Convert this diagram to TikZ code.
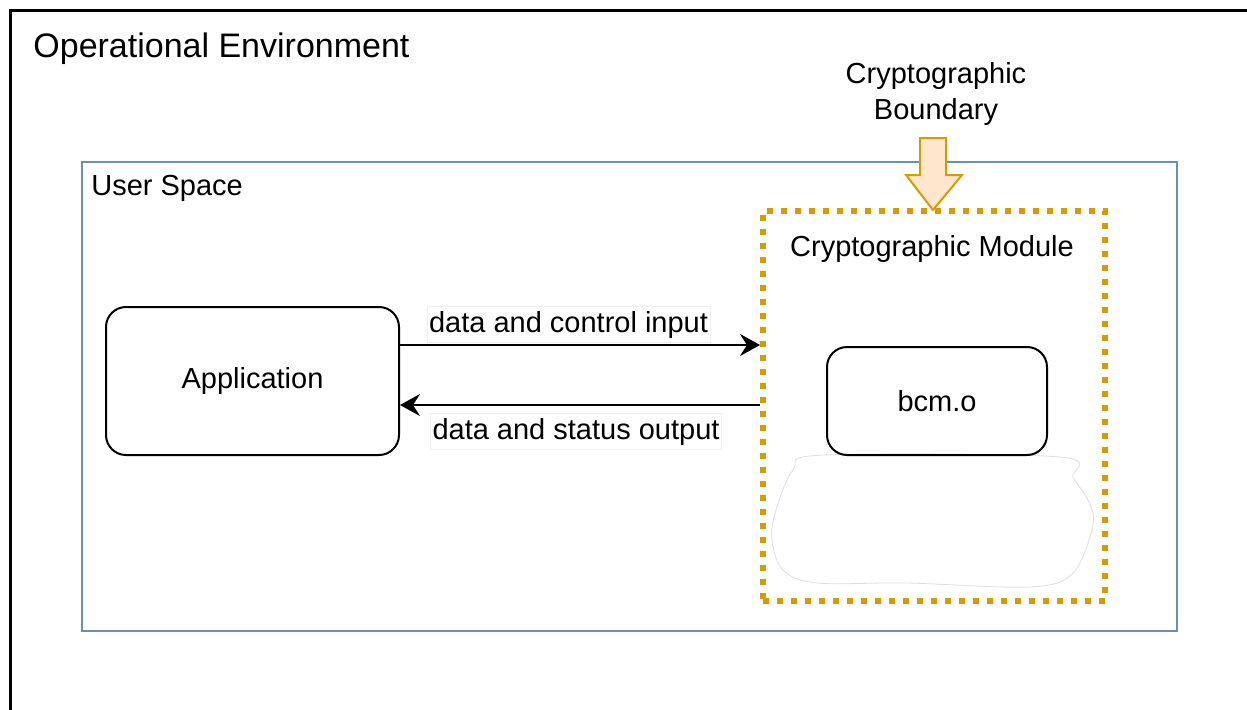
\documentclass[tikz,border=0pt]{standalone}
\usepackage{fontspec}
\setmainfont{Liberation Sans}
\usetikzlibrary{arrows.meta,positioning}
\definecolor{userblue}{HTML}{6C8EBF}
\definecolor{bndorange}{HTML}{D79B00}
\definecolor{bndfill}{HTML}{FFE6CC}
\newcommand{\txt}{\fontsize{14.5}{18}\selectfont}
\tikzset{
  plaintext/.style = {inner sep=0pt, font=\txt},
  roundbox/.style = {draw=black, line width=1pt, rounded corners=10pt, align=center, font=\txt},
  flowlabel/.style = {fill=white, draw=gray!12, line width=0.4pt, inner xsep=1pt, inner ysep=1pt, minimum height=18pt, font=\txt},
  flow/.style = {-{Stealth[length=10pt, width=11pt, inset=3.5pt]}, line width=1pt},
}
\begin{document}
\begin{tikzpicture}[x=0.5pt, y=-0.5pt]
  \useasboundingbox (0,0) rectangle (1247,709);
  \clip (0,0) rectangle (1247,709);
  % operational environment, runs off the page
  \draw [line width=1.5pt] (10,10) rectangle (1300,760);
  \node [plaintext, font=\fontsize{17}{20}\selectfont, anchor=base west] (envtitle) at (33,57) {Operational Environment};
  % user space
  \node [draw=userblue, line width=1pt, minimum width=547.5pt, minimum height=234.5pt] (userspace) at (629.5,396.5) {};
  \node [plaintext, anchor=base west] (usertitle) at (91,195) {User Space};
  % boundary marker
  \node [plaintext, align=center] (bndtitle) at (936,94) {Cryptographic\\Boundary};
  \draw [fill=bndfill, draw=bndorange, line width=1pt]
    (920,138) -- (946,138) -- (946,175) -- (962,175) -- (933,210) -- (906,175) -- (920,175) -- cycle;
  % cryptographic module
  \node [draw=bndorange, line width=3pt, dash pattern=on 3pt off 4pt, minimum width=171pt, minimum height=195pt] (module) at (934,406) {};
  \node [plaintext, anchor=base] (modtitle) at (932,256) {Cryptographic Module};
  \draw [fill=white, draw=gray!25, line width=0.4pt] plot [smooth cycle, tension=0.55] coordinates {
    (823,455) (1060,457) (1073,478) (1088,500) (1093,525) (1073,573) (1030,587)
    (907,583) (817,583) (783,570) (772,540) (776,510) (793,470)};
  \node [roundbox, minimum width=110pt, minimum height=54pt] (bcm) at (937,401) {bcm.o};
  % application and flows
  \node [roundbox, minimum width=146.5pt, minimum height=74pt] (app) at (252.5,381) {Application};
  \draw [flow] ([yshift=18pt]app.east) -- ([yshift=18pt]app.east -| module.west);
  \draw [flow] ([yshift=-12pt]app.east -| module.west) -- ([yshift=-12pt]app.east);
  \node [flowlabel] (inlabel) at (568.5,324.5) {data and control input};
  \node [flowlabel] (outlabel) at (576,431.5) {data and status output};
\end{tikzpicture}
\end{document}
